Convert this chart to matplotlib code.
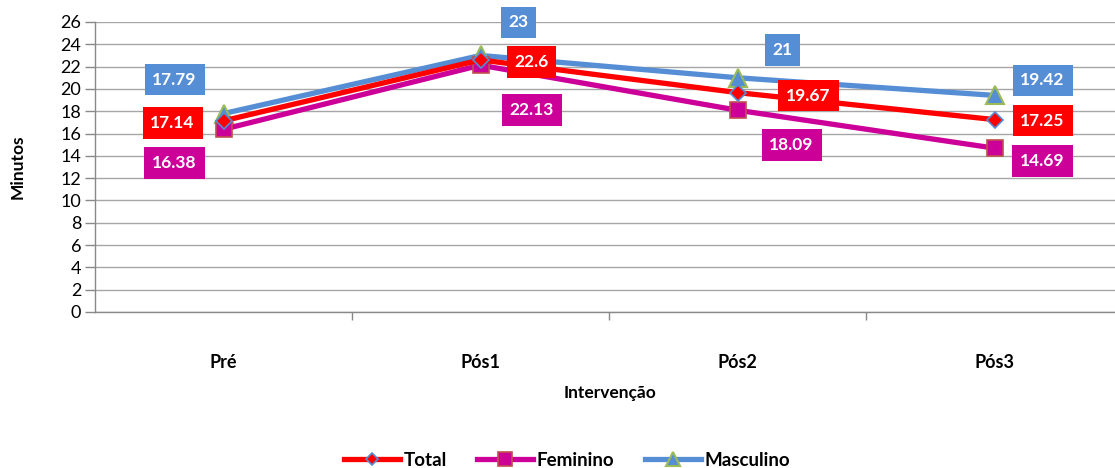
import matplotlib
matplotlib.use("Agg")
import matplotlib.pyplot as plt

plt.rcParams['font.family'] = ['Lato', 'DejaVu Sans']

categories = ["Pré", "Pós1", "Pós2", "Pós3"]
total = [17.14, 22.6, 19.67, 17.25]
feminino = [16.38, 22.13, 18.09, 14.69]
masculino = [17.79, 23, 21, 19.42]
yticks = list(range(0, 27, 2))

W, H = 1115, 468
fig = plt.figure(figsize=(W / 100, H / 100), dpi=100)
left, right = 95 / W, 1123 / W
top, bottom = 1 - 22 / H, 1 - 312 / H
ax = fig.add_axes([left, bottom, right - left, top - bottom])

x = list(range(len(categories)))
c_tot, c_fem, c_mas = "#FF0000", "#CC0099", "#558ED5"

ax.plot(x, masculino, color=c_mas, lw=3.8, marker="^", ms=13, mfc=c_mas,
        mec="#9BBB59", mew=1.5, zorder=3, label="Masculino")
ax.plot(x, total, color=c_tot, lw=3.8, marker="D", ms=8, mfc=c_tot,
        mec=c_mas, mew=1.2, zorder=4, label="Total")
ax.plot(x, feminino, color=c_fem, lw=3.8, marker="s", ms=12, mfc=c_fem,
        mec="#C0504D", mew=1.2, zorder=3, label="Feminino")

# label offsets in pixels (style, not data)
off_m = [(-49, 34), (38, 33), (45, 28), (48, 15)]
off_t = [(-51, -2), (51, -2), (71, -3), (48, -1)]
off_f = [(-49, -34), (51, -45), (54, -35), (48, -13)]

def label(vals, offs, color):
    for xi, v, (dx, dy) in zip(x, vals, offs):
        ax.annotate(f"{v:g}", (xi, v), xytext=(dx, dy), textcoords="offset pixels",
                    ha="center", va="center", color="white", fontsize=12.5,
                    fontweight="bold", zorder=6,
                    bbox=dict(boxstyle="square,pad=0.45", fc=color, ec="none"))

label(masculino, off_m, c_mas)
label(total, off_t, c_tot)
label(feminino, off_f, c_fem)

ax.set_xlim(-0.5, 3.5)
ax.set_ylim(0, 26)
ax.set_yticks(yticks)
ax.set_yticklabels([str(t) for t in yticks], fontsize=13)
ax.set_xticks(x)
ax.set_xticklabels(categories, fontsize=13, fontweight="bold")
ax.set_xticks([0.5, 1.5, 2.5], minor=True)
ax.tick_params(axis="x", which="major", length=0, pad=30)
ax.tick_params(axis="x", which="minor", length=6, color="#898989", width=1)
ax.tick_params(axis="y", length=7, color="#898989", width=1, pad=3)

ax.grid(axis="y", color="#A6A6A6", lw=1)
ax.set_axisbelow(True)
for s in ["top", "right"]:
    ax.spines[s].set_visible(False)
for s in ["left", "bottom"]:
    ax.spines[s].set_color("#898989")
    ax.spines[s].set_linewidth(1)

ax.set_ylabel("Minutos", fontsize=12.5, fontweight="bold")
ax.yaxis.set_label_coords(-69 / (1123 - 95), 0.5)
fig.text(610 / W, 1 - 393 / H, "Intervenção", ha="center", va="center",
         fontsize=12.5, fontweight="bold")

handles, labels = ax.get_legend_handles_labels()
order = [1, 2, 0]
leg = fig.legend([handles[i] for i in order], [labels[i] for i in order],
                 loc="center", bbox_to_anchor=(567 / W, 1 - 460 / H), ncol=3,
                 frameon=False, handlelength=3.0, columnspacing=1.6,
                 handletextpad=0.2, prop=dict(weight="bold", size=13.5),
                 markerscale=0.8)

fig.savefig("out.png", dpi=100)
